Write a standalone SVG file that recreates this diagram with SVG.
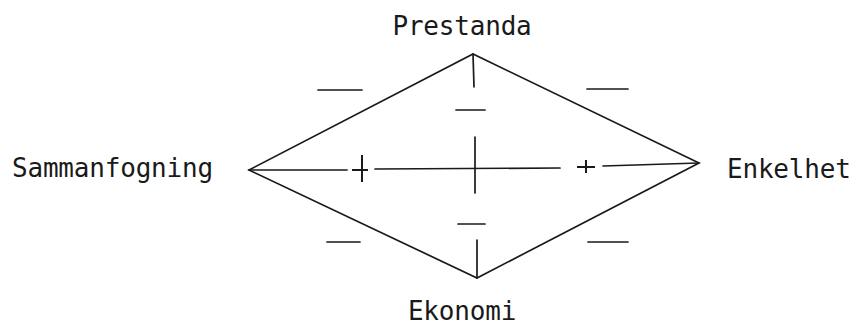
<svg xmlns="http://www.w3.org/2000/svg" width="855" height="325" viewBox="0 0 855 325">
<style>
.t{font-family:"DejaVu Sans Mono","Liberation Mono",monospace;font-size:26px;fill:#1a1a1a;letter-spacing:-0.2px}
.l{stroke:#1a1a1a;stroke-width:1.7;fill:none;stroke-linecap:round}
.m{stroke:#1a1a1a;stroke-width:2;fill:none}
</style>
<rect width="855" height="325" fill="#ffffff"/>
<g id="node-prestanda"><text class="t" x="462" y="35" text-anchor="middle">Prestanda</text></g>
<g id="node-sammanfogning"><text class="t" x="12" y="177">Sammanfogning</text></g>
<g id="node-enkelhet"><text class="t" x="727" y="178">Enkelhet</text></g>
<g id="node-ekonomi"><text class="t" x="462" y="320" text-anchor="middle">Ekonomi</text></g>
<g id="connectors">
<path class="l" d="M249,170 L473,54 L699,163 L477,278 Z"/>
<path class="l" d="M249,170 L347,170 M375,169 L560,168 M603,166 L699,163"/>
<path class="l" d="M473,54 L474,87 M475,137 L475,193 M477,240 L477,278"/>
</g>
<g id="signs">
<path class="m" d="M352,170 L368,170 M362,155 L362,182"/>
<path class="m" d="M577,167 L595,167 M586,160 L586,173"/>
<path class="l" d="M318,90 L362,90 M327,242 L360,242 M456,110 L485,110 M458,224 L485,224 M587,89 L628,89 M588,242 L628,242"/>
</g>
</svg>
